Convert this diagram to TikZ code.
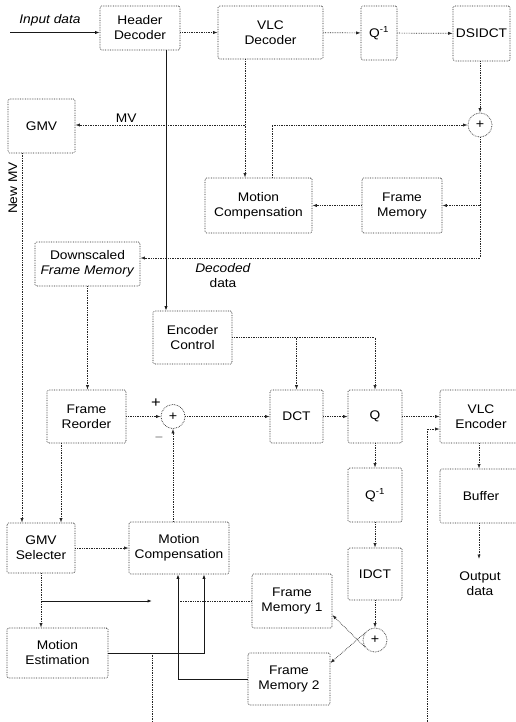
\documentclass[tikz,border=0pt]{standalone}
\usepackage{fontspec}
\setmainfont{Liberation Sans}[FakeStretch=1.1]
\usetikzlibrary{arrows.meta}

\begin{document}
\begin{tikzpicture}[x=1pt, y=-1pt,
    blk/.style={rectangle, draw=black!85, densely dotted, line width=0.7pt,
                rounded corners=1.5pt, inner sep=0pt, align=center,
                font=\fontsize{12.5}{15}\selectfont, text=black},
    sumc/.style={circle, draw=black!85, densely dotted, line width=0.7pt,
                 minimum size=24pt, inner sep=0pt,
                 font=\fontsize{13}{13}\selectfont, text=black},
    lbl/.style={font=\fontsize{12.5}{15}\selectfont, text=black,
                inner sep=1pt, align=center},
    link/.style={draw=black!85, densely dotted, line width=0.7pt},
    wire/.style={draw=black!90, line width=0.8pt},
    arr/.style={-{Latex[length=4.5pt,width=3.2pt]}},
]

\fill[white] (0,0) rectangle (516,722);
\useasboundingbox (0,0) rectangle (516,722);

% decoder part
\node[blk, minimum width=80pt, minimum height=44pt] (hdec) at (140,28) {Header\\Decoder};
\node[blk, minimum width=105pt, minimum height=53pt] (vlcdec) at (270.5,32.5) {VLC\\Decoder};
\node[blk, minimum width=36pt, minimum height=54pt] (qinv) at (379,33) {Q\textsuperscript{-1}};
\node[blk, minimum width=57pt, minimum height=55pt] (dsidct) at (481.5,33.5) {DSIDCT};
\node[sumc] (addtop) at (480,125) {+};
\node[blk, minimum width=67pt, minimum height=54pt] (gmv) at (41.5,126) {GMV};
\node[blk, minimum width=107pt, minimum height=55pt] (mctop) at (258.5,205.5) {Motion\\Compensation};
\node[blk, minimum width=80pt, minimum height=55pt] (fmem) at (402,205.5) {Frame\\Memory};
\node[blk, minimum width=105pt, minimum height=44pt] (dsfm) at (87.5,264) {Downscaled\\\textit{Frame Memory}};

% encoder part
\node[blk, minimum width=79pt, minimum height=53pt] (enc) at (192.5,337.5) {Encoder\\Control};
\node[blk, minimum width=79pt, minimum height=53pt] (freo) at (86.5,416.5) {Frame\\Reorder};
\node[sumc] (sub) at (173,416.5) {+};
\node[blk, minimum width=53pt, minimum height=53pt] (dct) at (296.5,416.5) {DCT};
\node[blk, minimum width=54pt, minimum height=53pt] (quant) at (375,416.5) {Q};
\node[blk, minimum width=82pt, minimum height=53pt] (vlcenc) at (481,416.5) {VLC\\Encoder};
\node[blk, minimum width=54pt, minimum height=54pt] (qinv2) at (375,495) {Q\textsuperscript{-1}};
\node[blk, minimum width=82pt, minimum height=54pt] (buffer) at (481,496) {Buffer};
\node[blk, minimum width=68pt, minimum height=50pt] (gmvsel) at (41,548) {GMV\\Selecter};
\node[blk, minimum width=100pt, minimum height=52pt] (mcbot) at (179,548) {Motion\\Compensation};
\node[blk, minimum width=54pt, minimum height=52pt] (idct) at (375,574) {IDCT};
\node[blk, minimum width=80pt, minimum height=54pt] (fm1) at (292,601) {Frame\\Memory 1};
\node[sumc] (addbot) at (375,640) {+};
\node[blk, minimum width=101pt, minimum height=50pt] (mest) at (57.5,653) {Motion\\Estimation};
\node[blk, minimum width=82pt, minimum height=52pt] (fm2) at (289,679) {Frame\\Memory 2};

% labels
\node[lbl, font=\fontsize{12.5}{15}\selectfont\itshape] (inlbl) at (50,20) {Input data};
\node[lbl, rotate=90] (nmvlbl) at (13,188) {New MV};
\node[lbl] (declbl) at (223,276) {\textit{Decoded}\\data};
\node[lbl] (outlbl) at (480,584) {Output\\data};
\node[lbl, font=\fontsize{15}{15}\selectfont] (subplus) at (156,403) {+};
\node[lbl] (subminus) at (159,437) {$-$};

% free ends and taps
\coordinate (in) at (10,32.5);
\coordinate (mvsplit) at (245,125);
\coordinate (dec) at (480,258);
\coordinate (hdtap) at (166,50);
\coordinate (nmv) at (22,153);
\coordinate (frtap) at (61,443);
\coordinate (outp) at (479,559);
\coordinate (rc) at (427,722);
\coordinate (rcin) at (427,429);
\coordinate (gsb) at (41,601);
\coordinate (gse) at (152,601);
\coordinate (lane) at (178,601);
\coordinate (lb1) at (152,653);
\coordinate (lb2) at (152,722);

% decoder connectors
\draw[wire, arr] (in) -- (in -| hdec.west);
\draw[link, arr] (hdec.east |- vlcdec) -- (vlcdec);
\draw[link, arr] (vlcdec) -- (qinv);
\draw[link, arr] (qinv) -- (dsidct);
\draw[link, arr] (dsidct.south -| addtop) -- (addtop);
\draw[link, arr] (vlcdec.south -| mvsplit) -- (mvsplit |- mctop.north);
\draw[link, arr] (mvsplit) -- (mvsplit -| gmv.east) node[lbl, pos=0.7, above=1pt] {MV};
\draw[link, arr] ([xshift=13.5pt]mctop.north) |- (addtop);
\draw[link, arr] (addtop.south) -- (dec) -- (dec -| dsfm.east);
\draw[link, arr] (fmem.east -| dec) -- (fmem.east);
\draw[link, arr] (fmem) -- (mctop);
\draw[wire, arr] (hdtap) -- (hdtap |- enc.north);
\draw[link, arr] (nmv) -- (nmv |- gmvsel.north);
\draw[link, arr] (dsfm.south) -- (dsfm.south |- freo.north);

% encoder connectors
\draw[link, arr] (enc.east) -| (quant.north);
\draw[link, arr] (enc.east -| dct.north) -- (dct.north);
\draw[link, arr] (freo) -- (sub);
\draw[link, arr] (frtap) -- (frtap |- gmvsel.north);
\draw[link, arr] (sub) -- (dct);
\draw[link, arr] (mcbot.north -| sub) -- (sub.south);
\draw[link, arr] (dct) -- (quant);
\draw[link, arr] (quant) -- (vlcenc);
\draw[link, arr] (quant) -- (qinv2);
\draw[link, arr] (qinv2) -- (idct);
\draw[link, arr] (idct) -- (addbot);
\draw[link, arr] (vlcenc.south -| outp) -- (buffer.north -| outp);
\draw[link, arr] (buffer.south -| outp) -- (outp);
\draw[link, arr] (rc) -- (rcin) -- (rcin -| vlcenc.west);
\draw[link, arr] (gmvsel) -- (mcbot);
\draw[link, arr] (gmvsel.south) -- (gmvsel.south |- mest.north);
\draw[wire, arr] (gsb) -- (gse);
\draw[wire, arr] (mest.east) -| ([xshift=25pt]mcbot.south);
\draw[link] (fm1.west) -- (lane);
\draw[wire, arr] (fm2.west) -| ([xshift=-1pt]mcbot.south);
\draw[link, arr] (addbot.215) -- ([yshift=-14pt]fm1.east);
\draw[link, arr] (addbot.145) -- ([yshift=16pt]fm2.east);
\draw[link] (lb1) -- (lb2);

\end{tikzpicture}
\end{document}
